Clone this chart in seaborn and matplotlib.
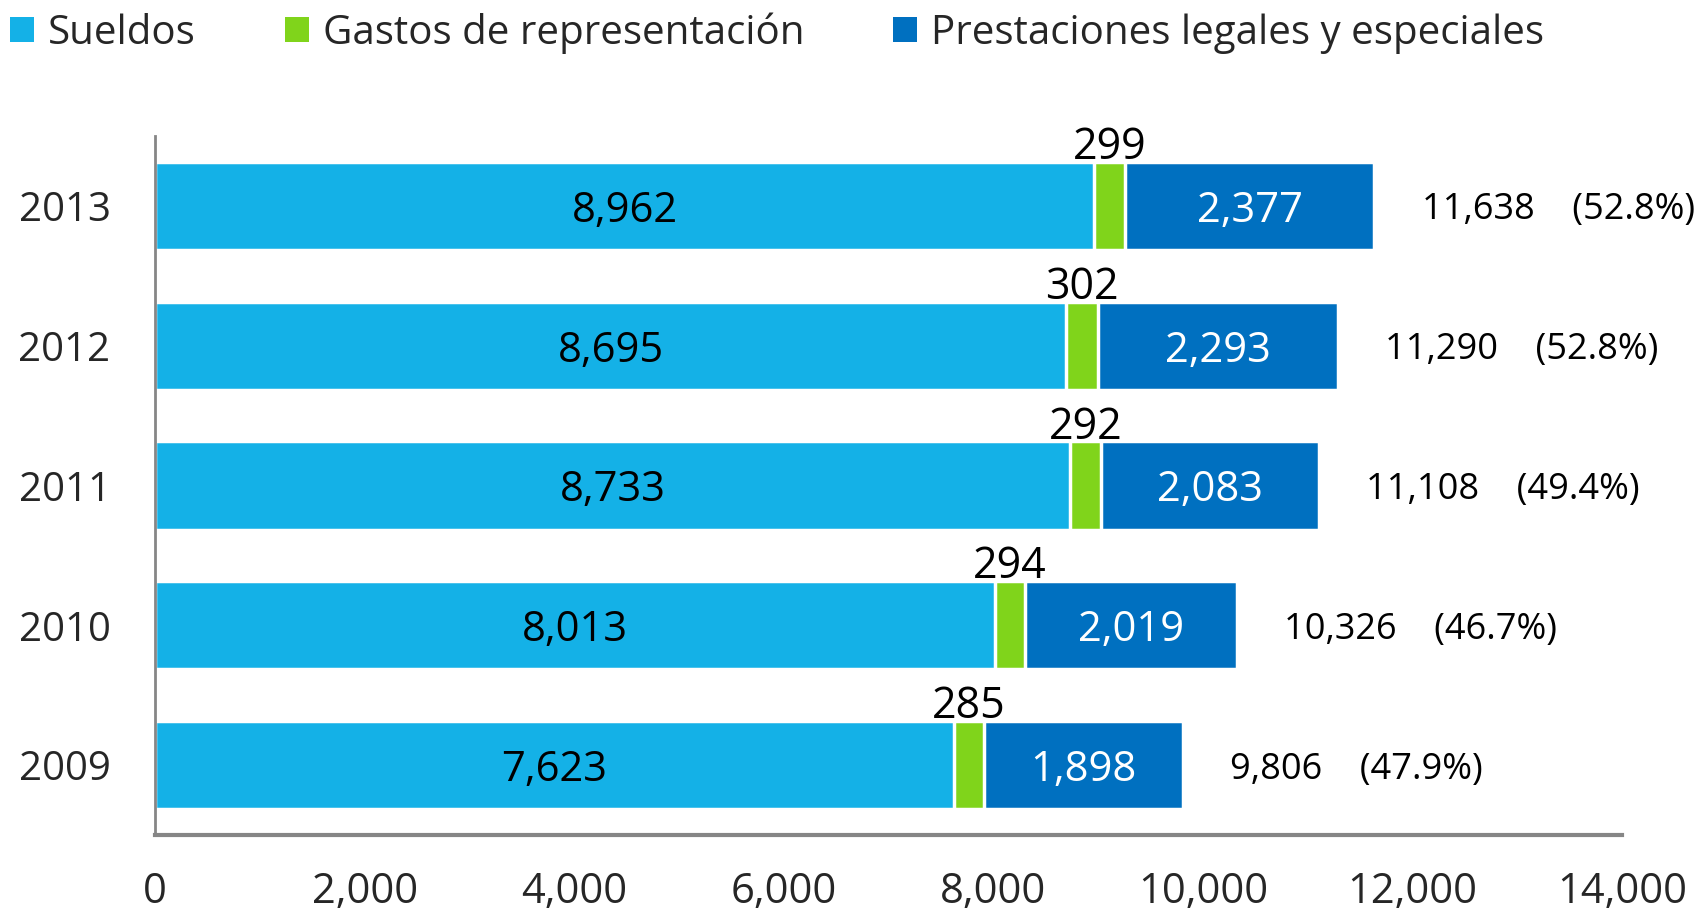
import matplotlib
matplotlib.use("Agg")
import matplotlib.pyplot as plt
from matplotlib.patches import Patch
import seaborn as sns

# datos (millones de pesos)
anios = ["2013", "2012", "2011", "2010", "2009"]
sueldos = [8962, 8695, 8733, 8013, 7623]
gastos = [299, 302, 292, 294, 285]
prestaciones = [2377, 2293, 2083, 2019, 1898]
porcentajes = [52.8, 52.8, 49.4, 46.7, 47.9]
series = ["Sueldos", "Gastos de representación", "Prestaciones legales y especiales"]
colores = ["#14B1E7", "#80D41B", "#0070C0"]
ticks_x = [0, 2000, 4000, 6000, 8000, 10000, 12000, 14000]

sns.set_style("white")
plt.rcParams["font.family"] = ["Open Sans", "DejaVu Sans"]

sueldos_gastos = [s + g for s, g in zip(sueldos, gastos)]
totales = [s + g + p for s, g, p in zip(sueldos, gastos, prestaciones)]

fig = plt.figure(figsize=(17.04, 9.15), dpi=100)
ax = fig.add_axes([155 / 1704, 1 - 835 / 915, (1622 - 155) / 1704, (835 - 136) / 915])

ancho = 0.63
# barras acumuladas: total, luego sueldos+gastos, luego sueldos
for valores, color in zip([totales, sueldos_gastos, sueldos], colores[::-1]):
    sns.barplot(
        x=valores,
        y=anios,
        order=anios,
        orient="y",
        color=color,
        saturation=1,
        width=ancho,
        errorbar=None,
        edgecolor="white",
        linewidth=2.5,
        ax=ax,
    )

for i, anio in enumerate(anios):
    s, g, p, t = sueldos[i], gastos[i], prestaciones[i], totales[i]
    ax.text(s / 2, i, f"{s:,}", ha="center", va="center_baseline", fontsize=30, color="black")
    ax.text(s + g + p / 2, i, f"{p:,}", ha="center", va="center_baseline", fontsize=30, color="white")
    ax.annotate(
        f"{g:,}",
        xy=(s + g / 2, i - ancho / 2),
        xytext=(0, 2),
        textcoords="offset points",
        ha="center",
        va="baseline",
        fontsize=31,
        color="black",
    )
    ax.annotate(
        f"{t:,}    ({porcentajes[i]:.1f}%)",
        xy=(t, i),
        xytext=(34, 0),
        textcoords="offset points",
        ha="left",
        va="center_baseline",
        fontsize=26,
        color="black",
    )

ax.set_xlim(0, 14000)
ax.set_xticks(ticks_x)
ax.set_xticklabels([f"{v:,}" for v in ticks_x])
ax.set_xlabel("")
ax.set_ylabel("")
ax.tick_params(axis="x", length=0, pad=26, labelsize=30)
ax.tick_params(axis="y", length=0, pad=32, labelsize=29)

sns.despine(ax=ax)
ax.spines["left"].set_color("#868686")
ax.spines["left"].set_linewidth(2)
ax.spines["bottom"].set_color("#868686")
ax.spines["bottom"].set_linewidth(3)

handles = [Patch(facecolor=c, edgecolor="none") for c in colores]
fig.legend(
    handles,
    series,
    loc="center left",
    bbox_to_anchor=(10 / 1704, 1 - 33 / 915),
    ncol=3,
    frameon=False,
    fontsize=29,
    handlelength=0.6,
    handleheight=0.6,
    handletextpad=0.35,
    columnspacing=2.2,
    borderpad=0,
    borderaxespad=0,
)

fig.savefig("out.png", dpi=100, facecolor="white")
